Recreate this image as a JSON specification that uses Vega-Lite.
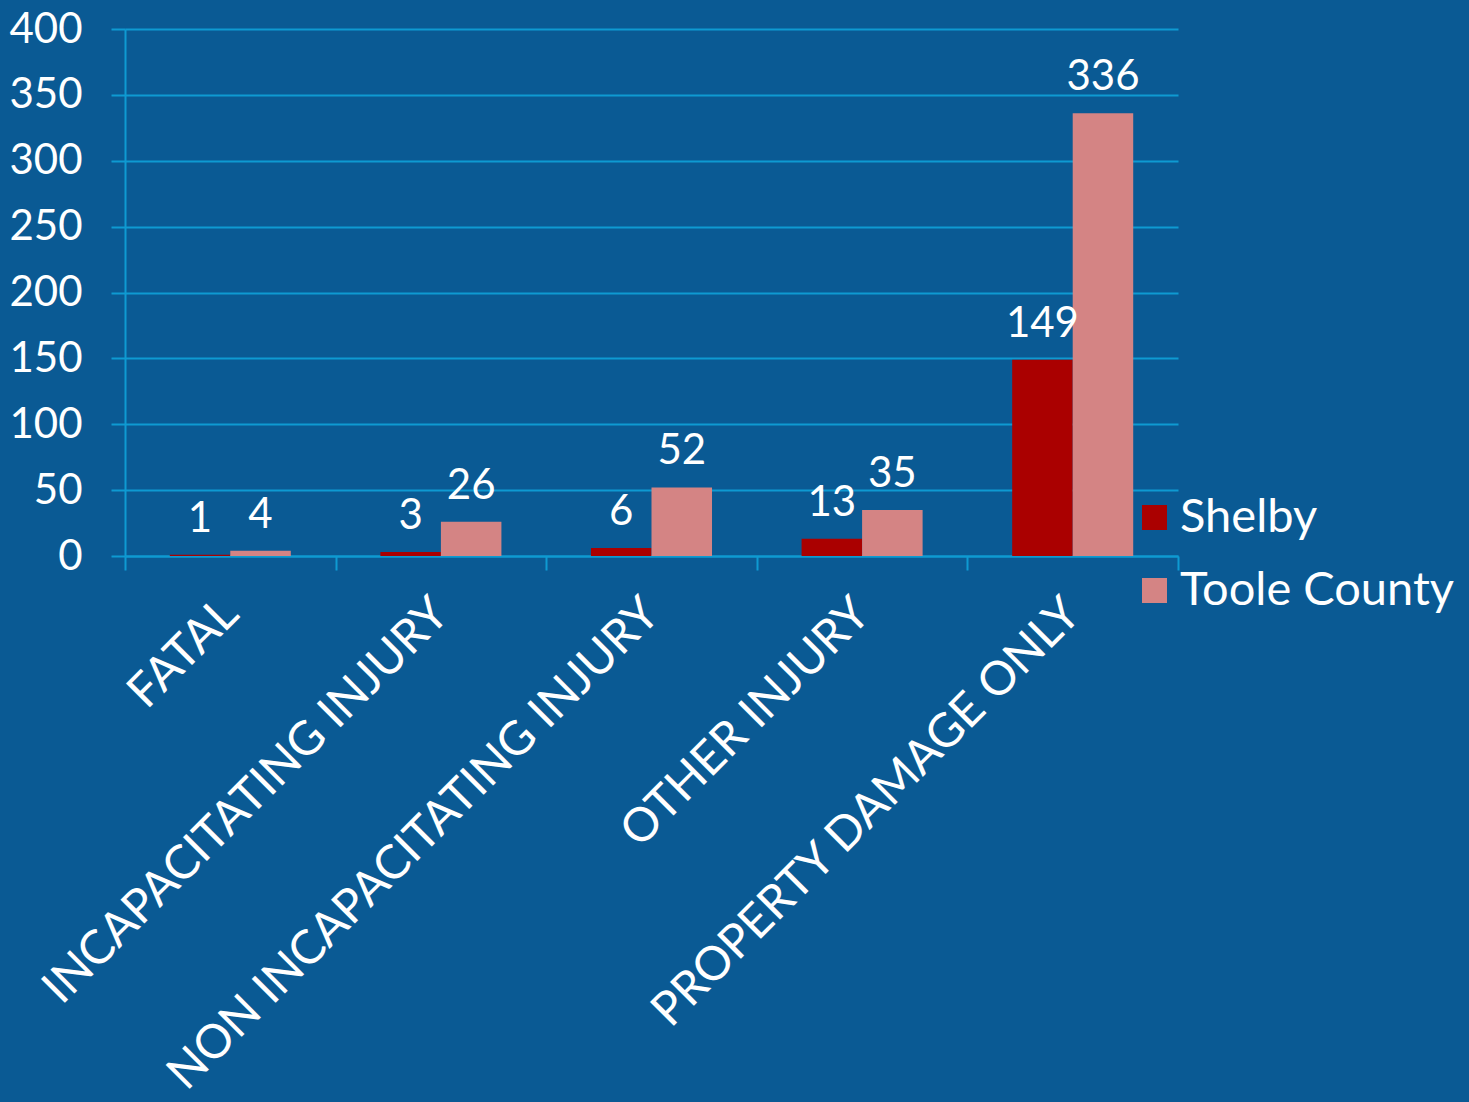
{
  "$schema": "https://vega.github.io/schema/vega-lite/v6.json",
  "width": 1053,
  "height": 527,
  "autosize": {"type": "none"},
  "padding": {"left": 125, "top": 29, "right": 291, "bottom": 546},
  "background": "#0a5a94",
  "config": {"view": {"stroke": null}},
  "data": {
    "values": [
      {"type": "FATAL", "series": "Shelby", "count": 1},
      {"type": "FATAL", "series": "Toole County", "count": 4},
      {"type": "INCAPACITATING INJURY", "series": "Shelby", "count": 3},
      {"type": "INCAPACITATING INJURY", "series": "Toole County", "count": 26},
      {"type": "NON INCAPACITATING INJURY", "series": "Shelby", "count": 6},
      {"type": "NON INCAPACITATING INJURY", "series": "Toole County", "count": 52},
      {"type": "OTHER INJURY", "series": "Shelby", "count": 13},
      {"type": "OTHER INJURY", "series": "Toole County", "count": 35},
      {"type": "PROPERTY DAMAGE ONLY", "series": "Shelby", "count": 149},
      {"type": "PROPERTY DAMAGE ONLY", "series": "Toole County", "count": 336}
    ]
  },
  "encoding": {
    "x": {
      "field": "type",
      "type": "nominal",
      "sort": null,
      "title": null,
      "scale": {"paddingInner": 0, "paddingOuter": 0},
      "axis": {
        "labelAngle": -45,
        "labelAlign": "right",
        "labelBaseline": "middle",
        "labelFont": "Lato",
        "labelFontSize": 47,
        "labelColor": "white",
        "labelPadding": 36,
        "labelLimit": 1000,
        "domainColor": "#0e9ad2",
        "domainWidth": 2,
        "tickColor": "#0e9ad2",
        "tickWidth": 2,
        "tickSize": 14,
        "tickBand": "extent",
        "grid": false
      }
    },
    "xOffset": {
      "field": "series",
      "type": "nominal",
      "sort": ["Shelby", "Toole County"],
      "scale": {"paddingInner": 0, "paddingOuter": 0.74}
    },
    "y": {
      "field": "count",
      "type": "quantitative",
      "title": null,
      "scale": {"domain": [0, 400]},
      "axis": {
        "values": [0, 50, 100, 150, 200, 250, 300, 350, 400],
        "labelFont": "Lato",
        "labelFontSize": 42,
        "labelColor": "white",
        "labelPadding": 29,
        "domainColor": "#0e9ad2",
        "domainWidth": 2,
        "tickColor": "#0e9ad2",
        "tickWidth": 2,
        "tickSize": 14,
        "gridColor": "#0e9ad2",
        "gridWidth": 2,
        "gridOpacity": 1
      }
    }
  },
  "layer": [
    {
      "mark": {"type": "bar"},
      "encoding": {
        "color": {
          "field": "series",
          "type": "nominal",
          "sort": ["Shelby", "Toole County"],
          "scale": {"domain": ["Shelby", "Toole County"], "range": ["#aa0000", "#d48484"]},
          "legend": {
            "title": null,
            "orient": "none",
            "legendX": 1006,
            "legendY": 465,
            "symbolType": "square",
            "symbolSize": 625,
            "symbolStrokeWidth": 0,
            "labelFont": "Lato",
            "labelFontSize": 47,
            "labelColor": "white",
            "labelLimit": 400,
            "rowPadding": 25,
            "labelOffset": 2
          }
        }
      }
    },
    {
      "mark": {"type": "text", "baseline": "bottom", "dy": -14, "font": "Lato", "fontSize": 42, "color": "white"},
      "encoding": {"text": {"field": "count", "type": "quantitative"}}
    }
  ]
}
